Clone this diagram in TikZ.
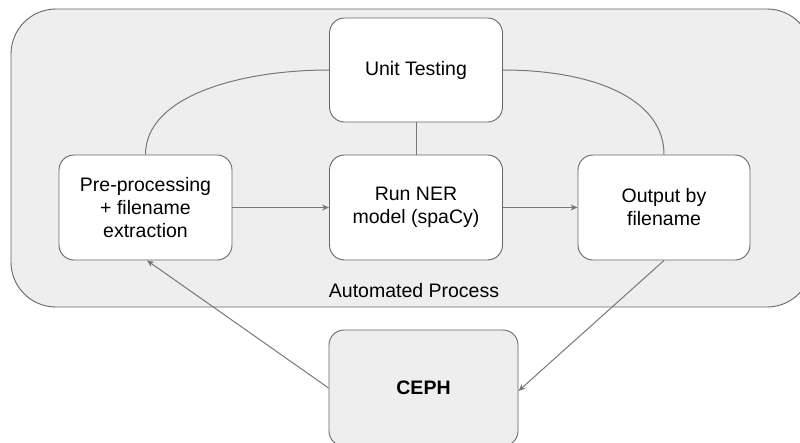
\documentclass[tikz,border=0pt]{standalone}
\usepackage{fontspec}
\setmainfont{Liberation Sans}
\usetikzlibrary{arrows.meta}
\definecolor{bgfill}{HTML}{EEEEEE}
\definecolor{edge}{HTML}{666666}
\definecolor{wire}{HTML}{777777}
\tikzset{
  procbox/.style={draw=edge, line width=0.9pt, fill=white, rounded corners=15pt,
    minimum width=173pt, minimum height=105pt, align=center, inner sep=2pt,
    font=\fontsize{19.5}{23}\selectfont},
  wireline/.style={draw=wire, line width=1pt},
  arr/.style={wireline, -{Stealth[length=7pt,width=6pt]}},
}
\begin{document}
\begin{tikzpicture}[x=1pt,y=-1pt]
\useasboundingbox (0,0) rectangle (800,442);
\clip (0,0) rectangle (800,442);
% container
\draw[draw=edge, line width=0.9pt, fill=bgfill, rounded corners=45pt] (11,9) rectangle (812,307);
\node[font=\fontsize{19.5}{23}\selectfont] (lbl) at (414,291) {Automated Process};
% nodes
\node[procbox, minimum height=104pt] (ut) at (416,70) {Unit Testing};
\node[procbox] (pre) at (145.5,207.5) {Pre-processing\\+ filename\\extraction};
\node[procbox] (ner) at (416,207.5) {Run NER\\model (spaCy)};
\node[procbox, minimum width=172pt] (out) at (664,207.5) {Output by\\filename};
\node[procbox, fill=bgfill, minimum width=189pt, minimum height=116pt,
  font=\fontsize{19.5}{23}\selectfont\bfseries] (ceph) at (423.5,388) {CEPH};
% connectors
\draw[arr] (pre.east) -- (ner.west);
\draw[arr] (ner.east) -- (out.west);
\draw[wireline] (ut.south) -- (ner.north);
\draw[wireline] (pre.north) .. controls (145.5,96) and (240,70) .. (ut.west);
\draw[wireline] (ut.east) .. controls (592,70) and (664,98) .. (out.north);
\draw[arr] (ceph.west) -- ([xshift=1.5pt]pre.south);
\draw[arr] (out.south) -- ([yshift=-3pt]ceph.east);
\end{tikzpicture}
\end{document}
